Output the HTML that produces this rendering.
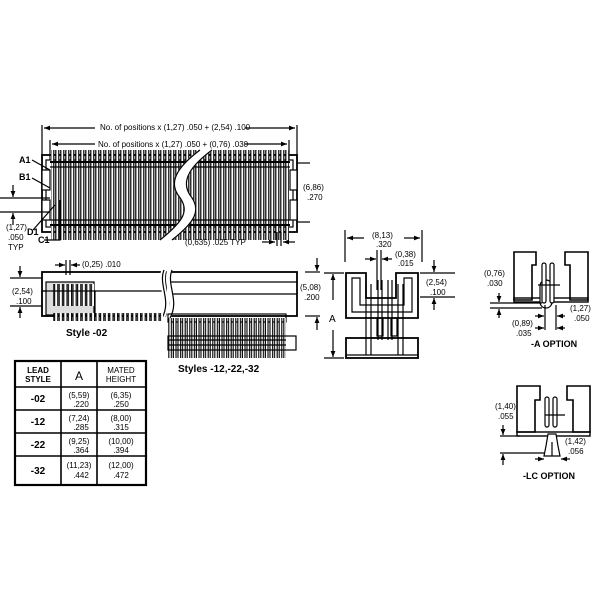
<!DOCTYPE html>
<html><head><meta charset="utf-8"><style>
html,body{margin:0;padding:0;background:#fff;width:600px;height:600px;overflow:hidden}
svg{display:block}
text{font-family:"Liberation Sans",sans-serif;fill:#000}
</style></head><body>
<svg width="600" height="600" viewBox="0 0 600 600" xmlns="http://www.w3.org/2000/svg">
<defs>
<pattern id="pins" x="50" y="0" width="5" height="600" patternUnits="userSpaceOnUse">
 <rect x="0.8" y="0" width="3" height="600" fill="#fff" stroke="#000" stroke-width="1.2"/>
</pattern>
<pattern id="spins" x="168" y="0" width="4.6" height="600" patternUnits="userSpaceOnUse">
 <rect x="0.8" y="0" width="2.6" height="600" rx="1.2" fill="#fff" stroke="#000" stroke-width="1.1"/>
</pattern>
<pattern id="beads" x="54" y="0" width="4.6" height="600" patternUnits="userSpaceOnUse">
 <rect x="0.6" y="0" width="3.2" height="600" rx="1.6" fill="#fff" stroke="#000" stroke-width="1.1"/>
</pattern>
<marker id="ar" viewBox="0 0 10 10" refX="10" refY="5" markerWidth="7" markerHeight="5" orient="auto-start-reverse"><path d="M0,1 L10,5 L0,9 z" fill="#000"/></marker>
</defs>
<g stroke="#000" fill="none" stroke-width="1.2">
<line x1="42" y1="125" x2="42" y2="160"/><line x1="297" y1="125" x2="297" y2="160"/>
<line x1="50" y1="140" x2="50" y2="160"/><line x1="289" y1="140" x2="289" y2="160"/>
<line x1="44" y1="128" x2="95" y2="128" marker-start="url(#ar)"/><line x1="245" y1="128" x2="295" y2="128" marker-end="url(#ar)"/>
<line x1="52" y1="144" x2="95" y2="144" marker-start="url(#ar)"/><line x1="245" y1="144" x2="287" y2="144" marker-end="url(#ar)"/>
<rect x="42" y="155" width="255" height="77" stroke-width="1.8"/>
<rect x="46" y="160" width="247" height="67"/>
<rect x="51" y="150" width="238" height="90" fill="url(#pins)" stroke="none"/>
<line x1="50" y1="162" x2="290" y2="162" stroke-width="2"/>
<line x1="50" y1="167" x2="290" y2="167"/>
<line x1="50" y1="220" x2="290" y2="220"/>
<line x1="50" y1="225" x2="290" y2="225" stroke-width="2"/>
<rect x="42" y="170" width="8" height="20" fill="#fff"/><rect x="42" y="200" width="8" height="20" fill="#fff"/>
<rect x="290" y="170" width="7" height="20" fill="#fff"/><rect x="290" y="200" width="7" height="20" fill="#fff"/>
<path d="M160,240 C185,220 190,210 178,195 C168,180 180,165 200,150 L212,150 C192,165 180,180 190,195 C202,210 195,222 172,240 Z" fill="#fff" stroke="#fff"/>
<path d="M160,240 C185,220 190,210 178,195 C168,180 180,165 200,150"/>
<path d="M172,240 C195,222 202,210 190,195 C180,180 192,165 212,150"/>
<line x1="32" y1="160" x2="50" y2="170"/><line x1="32" y1="178" x2="50" y2="188"/>
<line x1="33" y1="230" x2="55" y2="205"/>
<polyline points="44,240 60,240 60,200"/>
<line x1="0" y1="198" x2="50" y2="198"/><line x1="0" y1="212" x2="50" y2="212"/>
<line x1="13" y1="185" x2="13" y2="197" marker-end="url(#ar)"/><line x1="13" y1="225" x2="13" y2="213" marker-end="url(#ar)"/>
<line x1="297" y1="163" x2="310" y2="163"/><line x1="297" y1="222" x2="310" y2="222"/>
<line x1="262" y1="242" x2="275" y2="242" marker-end="url(#ar)"/><line x1="295" y1="242" x2="283" y2="242" marker-end="url(#ar)"/>
<line x1="277" y1="232" x2="277" y2="246"/><line x1="281" y1="232" x2="281" y2="246"/>

<rect x="42" y="272" width="124" height="44" stroke-width="1.8"/>
<line x1="42" y1="291" x2="166" y2="291"/>
<rect x="170" y="272" width="127" height="44" stroke-width="1.8"/>
<line x1="170" y1="282" x2="297" y2="282"/><line x1="170" y1="294" x2="297" y2="294"/>
<path d="M164,270 C158,285 172,300 162,318" stroke="#fff" stroke-width="5"/>
<path d="M170,270 C164,285 178,300 168,318" stroke="#fff" stroke-width="5"/>
<path d="M164,270 C158,285 172,300 162,318"/><path d="M172,270 C166,285 180,300 170,318"/>
<rect x="46" y="282" width="48" height="33" fill="#ddd"/>
<rect x="53" y="284" width="41" height="22" fill="url(#beads)" stroke="none"/>
<rect x="42" y="291" width="53" height="25" fill="none"/>
<rect x="53" y="313" width="110" height="8" fill="url(#beads)" stroke="none"/>
<line x1="66" y1="260" x2="66" y2="275"/><line x1="70" y1="260" x2="70" y2="275"/>
<line x1="55" y1="265" x2="65" y2="265" marker-end="url(#ar)"/><line x1="80" y1="265" x2="71" y2="265" marker-end="url(#ar)"/>
<line x1="10" y1="278" x2="42" y2="278"/><line x1="10" y1="306" x2="42" y2="306"/>
<line x1="20" y1="266" x2="20" y2="277" marker-end="url(#ar)"/><line x1="20" y1="318" x2="20" y2="307" marker-end="url(#ar)"/>
<rect x="168" y="314" width="118" height="8"/>
<rect x="168" y="318" width="118" height="40" fill="url(#spins)" stroke="none"/>
<rect x="168" y="336" width="128" height="14" fill="none"/>
<line x1="168" y1="340" x2="286" y2="340"/><line x1="168" y1="345" x2="286" y2="345"/>
<line x1="305" y1="272" x2="320" y2="272"/><line x1="305" y1="316" x2="320" y2="316"/>
<line x1="317" y1="258" x2="317" y2="271" marker-end="url(#ar)"/><line x1="317" y1="330" x2="317" y2="317" marker-end="url(#ar)"/>
<line x1="345" y1="230" x2="345" y2="262"/><line x1="422" y1="230" x2="422" y2="262"/>
<line x1="364" y1="238" x2="347" y2="238" marker-end="url(#ar)"/><line x1="404" y1="238" x2="420" y2="238" marker-end="url(#ar)"/>
<line x1="377" y1="250" x2="377" y2="290"/><line x1="381" y1="250" x2="381" y2="290"/>
<line x1="365" y1="259" x2="376" y2="259" marker-end="url(#ar)"/><line x1="392" y1="259" x2="382" y2="259" marker-end="url(#ar)"/>
<path d="M346,273 L366,273 L366,298 L396,298 L396,273 L418,273 L418,318 L346,318 Z" stroke-width="1.8"/>
<path d="M352,278 L360,278 L360,305 L404,305 L404,278 L412,278 L412,312 L352,312 Z"/>
<rect x="346" y="338" width="72" height="20" stroke-width="1.8"/>
<line x1="346" y1="355" x2="418" y2="355"/>
<line x1="366" y1="284" x2="366" y2="355"/><line x1="371" y1="284" x2="371" y2="355"/>
<line x1="378" y1="280" x2="378" y2="340"/><line x1="382" y1="280" x2="382" y2="340"/>
<line x1="388" y1="280" x2="388" y2="340"/><line x1="392" y1="280" x2="392" y2="340"/>
<line x1="398" y1="284" x2="398" y2="355"/><line x1="403" y1="284" x2="403" y2="355"/>
<rect x="377" y="318" width="6" height="18"/><rect x="391" y="318" width="6" height="18"/>
<line x1="324" y1="273" x2="344" y2="273"/><line x1="324" y1="358" x2="344" y2="358"/>
<line x1="333" y1="300" x2="333" y2="274" marker-end="url(#ar)"/><line x1="333" y1="330" x2="333" y2="357" marker-end="url(#ar)"/>
<line x1="420" y1="273" x2="455" y2="273"/><line x1="420" y1="297" x2="455" y2="297"/>
<line x1="434" y1="260" x2="434" y2="272" marker-end="url(#ar)"/><line x1="434" y1="310" x2="434" y2="298" marker-end="url(#ar)"/>

<path d="M514,252 L536,252 L536,265 L532,265 L532,300 L514,300 Z" stroke-width="1.6"/>
<path d="M565,252 L588,252 L588,300 L570,300 L570,265 L565,265 Z" stroke-width="1.6"/>
<rect x="514" y="298" width="74" height="4" stroke-width="1.4"/>
<rect x="540" y="280" width="12" height="28" rx="6" fill="#fff"/>
<rect x="542" y="263" width="4" height="40" rx="2" fill="#fff"/><rect x="550" y="263" width="4" height="40" rx="2" fill="#fff"/>
<line x1="538" y1="285" x2="560" y2="285"/>
<line x1="490" y1="303" x2="542" y2="303"/><line x1="490" y1="308" x2="542" y2="308"/>
<line x1="499" y1="293" x2="499" y2="302" marker-end="url(#ar)"/><line x1="499" y1="318" x2="499" y2="309" marker-end="url(#ar)"/>
<line x1="545" y1="305" x2="545" y2="330"/><line x1="556" y1="305" x2="556" y2="330"/>
<line x1="535" y1="316" x2="544" y2="316" marker-end="url(#ar)"/><line x1="565" y1="316" x2="557" y2="316" marker-end="url(#ar)"/>
<line x1="535" y1="328" x2="544" y2="328" marker-end="url(#ar)"/><line x1="565" y1="328" x2="557" y2="328" marker-end="url(#ar)"/>

<path d="M517,386 L540,386 L540,400 L535,400 L535,432 L517,432 Z" stroke-width="1.6"/>
<path d="M567,386 L590,386 L590,432 L573,432 L573,400 L567,400 Z" stroke-width="1.6"/>
<rect x="517" y="432" width="73" height="4" stroke-width="1.4"/>
<rect x="545" y="397" width="4" height="30" rx="2"/><rect x="553" y="397" width="4" height="30" rx="2"/>
<line x1="545" y1="415" x2="565" y2="415"/>
<path d="M548,434 L556,434 L558,446 L560,456 L544,456 L546,446 Z" fill="#fff"/>
<line x1="552" y1="442" x2="552" y2="456"/>
<line x1="500" y1="436" x2="520" y2="436"/><line x1="500" y1="453" x2="544" y2="453"/>
<line x1="503" y1="425" x2="503" y2="435" marker-end="url(#ar)"/><line x1="503" y1="465" x2="503" y2="454" marker-end="url(#ar)"/>
<line x1="535" y1="459" x2="544" y2="459" marker-end="url(#ar)"/><line x1="570" y1="459" x2="561" y2="459" marker-end="url(#ar)"/>

<rect x="15" y="361" width="131" height="124" stroke-width="2.2"/>
<line x1="61" y1="361" x2="61" y2="485" stroke-width="1.6"/>
<line x1="97" y1="361" x2="97" y2="485" stroke-width="1.6"/>
<line x1="15" y1="387" x2="146" y2="387" stroke-width="1.6"/>
<line x1="15" y1="410" x2="146" y2="410" stroke-width="1.6"/>
<line x1="15" y1="433" x2="146" y2="433" stroke-width="1.6"/>
<line x1="15" y1="456" x2="146" y2="456" stroke-width="1.6"/>
</g>

<g font-size="8">
<text x="100" y="130">No. of positions x (1,27) .050 + (2,54) .100</text>
<text x="98" y="147">No. of positions x (1,27) .050 + (0,76) .030</text>
<text x="19" y="163" font-weight="bold" font-size="9">A1</text>
<text x="19" y="180" font-weight="bold" font-size="9">B1</text>
<text x="27" y="235" font-weight="bold" font-size="9">D1</text>
<text x="38" y="243" font-weight="bold" font-size="9">C1</text>
<text x="6" y="230">(1,27)</text><text x="8" y="240">.050</text><text x="8" y="250">TYP</text>
<text x="303" y="190">(6,86)</text><text x="307" y="200">.270</text>
<text x="185" y="245">(0,635) .025 TYP</text>
<text x="82" y="267">(0,25) .010</text>
<text x="12" y="294">(2,54)</text><text x="16" y="304">.100</text>
<text x="66" y="336" font-size="10" font-weight="bold">Style -02</text>
<text x="178" y="372" font-size="10" font-weight="bold">Styles -12,-22,-32</text>
<text x="300" y="290">(5,08)</text><text x="304" y="300">.200</text>
<text x="329" y="322" font-size="10">A</text>
<text x="372" y="238">(8,13)</text><text x="376" y="247">.320</text>
<text x="395" y="257">(0,38)</text><text x="398" y="266">.015</text>
<text x="426" y="285">(2,54)</text><text x="430" y="295">.100</text>
<text x="484" y="276">(0,76)</text><text x="487" y="286">.030</text>
<text x="570" y="311">(1,27)</text><text x="574" y="321">.050</text>
<text x="512" y="326">(0,89)</text><text x="516" y="336">.035</text>
<text x="531" y="347" font-size="9" font-weight="bold">-A OPTION</text>
<text x="495" y="409">(1,40)</text><text x="498" y="419">.055</text>
<text x="565" y="444">(1,42)</text><text x="568" y="454">.056</text>
<text x="523" y="479" font-size="9" font-weight="bold">-LC OPTION</text>
</g>
<g font-size="8" text-anchor="middle">
<text x="38" y="373" font-weight="bold">LEAD</text><text x="38" y="382" font-weight="bold">STYLE</text>
<text x="79" y="380" font-size="12">A</text>
<text x="121" y="373">MATED</text><text x="121" y="382">HEIGHT</text>
<g font-size="10" font-weight="bold"><text x="38" y="402">-02</text><text x="38" y="425">-12</text><text x="38" y="448">-22</text><text x="38" y="474">-32</text></g>
<text x="79" y="398">(5,59)</text><text x="81" y="407">.220</text>
<text x="121" y="398">(6,35)</text><text x="121" y="407">.250</text>
<text x="79" y="421">(7,24)</text><text x="81" y="430">.285</text>
<text x="121" y="421">(8,00)</text><text x="121" y="430">.315</text>
<text x="79" y="444">(9,25)</text><text x="81" y="453">.364</text>
<text x="121" y="444">(10,00)</text><text x="121" y="453">.394</text>
<text x="79" y="468">(11,23)</text><text x="81" y="478">.442</text>
<text x="121" y="468">(12,00)</text><text x="121" y="478">.472</text>
</g>
</svg>
</body></html>
